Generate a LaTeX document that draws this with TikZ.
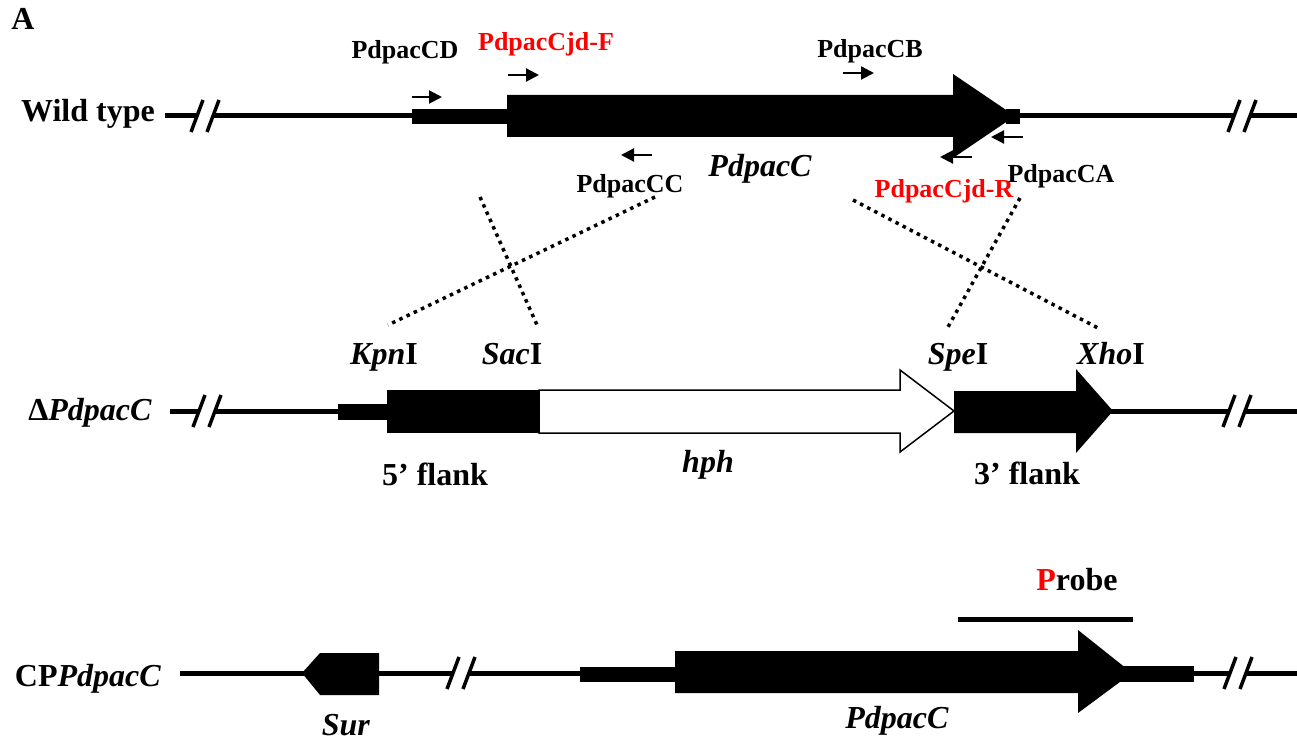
\documentclass[tikz,border=0pt]{standalone}
\usepackage{fontspec}
\setmainfont{Liberation Serif}
\usetikzlibrary{arrows.meta}
\definecolor{pred}{RGB}{255,0,0}
\tikzset{
  dna/.style={line width=5pt},
  slashmark/.style={line width=3.5pt},
  blk/.style={fill=black,draw=none},
  lblbig/.style={font=\fontsize{32}{38}\selectfont\bfseries, inner sep=0pt, anchor=base},
  lblsmall/.style={font=\fontsize{26}{31}\selectfont\bfseries, inner sep=0pt, anchor=base},
  primer/.style={line width=2.2pt, -{Triangle[length=13pt,width=13pt]}},
  crossline/.style={line width=3.5pt, dash pattern=on 3.5pt off 4.5pt},
}
\newcommand\dnabreak[2]{%
  \draw[slashmark] ({#1-14},{#2+16}) -- ({#1-2},{#2-16});
  \draw[slashmark] ({#1+2},{#2+16}) -- ({#1+14},{#2-16});
}
\begin{document}
\begin{tikzpicture}[x=1pt,y=-1pt]
\useasboundingbox (0,0) rectangle (1297,743);

% ---------- labels ----------
\node[lblbig] (lA) at (23,30) {A};

% ---------- Row 1 : Wild type ----------
\node[lblbig] (lwt) at (88,122) {Wild type};
\draw[dna] (165,116) -- (197,116);
\dnabreak{205}{116}
\draw[dna] (213,116) -- (412,116);
\fill[blk] (412,109) rectangle (508,124);
\fill[blk] (507,95) -- (953,95) -- (953,74) -- (1015,116) -- (953,158) -- (953,137) -- (507,137) -- cycle;
\fill[blk] (1006,109) rectangle (1020,124);
\draw[dna] (1019,116) -- (1234,116);
\dnabreak{1242}{116}
\draw[dna] (1250,116) -- (1297,116);

\node[lblsmall] (lCD) at (405,59) {PdpacCD};
\node[lblsmall, text=pred] (lCjdF) at (546,51) {PdpacCjd-F};
\node[lblsmall] (lCB) at (870,58) {PdpacCB};
\node[lblsmall] (lCC) at (630,193) {PdpacCC};
\node[lblsmall] (lCA) at (1061,183) {PdpacCA};
\node[lblsmall, text=pred] (lCjdR) at (944,198) {PdpacCjd-R};
\node[lblbig, font=\fontsize{32}{38}\selectfont\bfseries\itshape] (lgene1) at (760,177) {PdpacC};

\coordinate (pCDa) at (412,97);  \coordinate (pCDb) at (442,97);
\coordinate (pFa) at (508,75);   \coordinate (pFb) at (539,75);
\coordinate (pCBa) at (843,73);  \coordinate (pCBb) at (874,73);
\coordinate (pCCa) at (652,155); \coordinate (pCCb) at (621,155);
\coordinate (pCAa) at (1023,137); \coordinate (pCAb) at (991,137);
\coordinate (pRa) at (972,157);  \coordinate (pRb) at (940,157);
\draw[primer] (pCDa) -- (pCDb);
\draw[primer] (pFa) -- (pFb);
\draw[primer] (pCBa) -- (pCBb);
\draw[primer] (pCCa) -- (pCCb);
\draw[primer] (pCAa) -- (pCAb);
\draw[primer] (pRa) -- (pRb);

% ---------- crossing dotted lines ----------
\coordinate (c1a) at (480,197); \coordinate (c1b) at (537,325);
\coordinate (c2a) at (655,197); \coordinate (c2b) at (388,325);
\coordinate (c3a) at (853,200); \coordinate (c3b) at (1098,328);
\coordinate (c4a) at (1020,198); \coordinate (c4b) at (948,327);
\draw[crossline] (c1a) -- (c1b);
\draw[crossline] (c2a) -- (c2b);
\draw[crossline] (c3a) -- (c3b);
\draw[crossline] (c4a) -- (c4b);

% ---------- Row 2 : Delta PdpacC ----------
\node[lblbig] (ldel) at (90,420) {Δ\textit{PdpacC}};
\draw[dna] (170,411) -- (199,411);
\dnabreak{207}{411}
\draw[dna] (215,411) -- (338,411);
\fill[blk] (338,404) rectangle (388,420);
\fill[blk] (387,390) rectangle (539,433);
\draw[line width=1.5pt, fill=white] (539,390) -- (900,390) -- (900,370) -- (954,411) -- (900,452) -- (900,433) -- (539,433) -- cycle;
\fill[blk] (954,391) -- (1076,391) -- (1076,369) -- (1113,411) -- (1076,453) -- (1076,433) -- (954,433) -- cycle;
\draw[dna] (1110,411) -- (1229,411);
\dnabreak{1237}{411}
\draw[dna] (1245,411) -- (1297,411);

\node[lblbig] (lKpn) at (384,364) {\textit{Kpn}I};
\node[lblbig] (lSac) at (512,364) {\textit{Sac}I};
\node[lblbig] (lSpe) at (958,364) {\textit{Spe}I};
\node[lblbig] (lXho) at (1111,364) {\textit{Xho}I};
\node[lblbig] (l5f) at (435,485) {5’ flank};
\node[lblbig] (lhph) at (708,472) {\textit{hph}};
\node[lblbig] (l3f) at (1027,484) {3’ flank};

% ---------- Row 3 : CPPdpacC ----------
\node[lblbig] (lcp) at (88,686) {CP\textit{PdpacC}};
\draw[dna] (180,673) -- (305,673);
\fill[blk] (302,673) -- (320,653) -- (379,653) -- (379,695) -- (320,695) -- cycle;
\draw[dna] (378,673) -- (453,673);
\dnabreak{461}{673}
\draw[dna] (469,673) -- (580,673);
\fill[blk] (580,667) rectangle (676,682);
\fill[blk] (675,651) -- (1078,651) -- (1078,630) -- (1132,673) -- (1078,713) -- (1078,693) -- (675,693) -- cycle;
\fill[blk] (1120,666) rectangle (1194,682);
\draw[dna] (1193,673) -- (1230,673);
\dnabreak{1238}{673}
\draw[dna] (1246,673) -- (1297,673);

\coordinate (prA) at (958,619); \coordinate (prB) at (1133,619);
\draw[line width=5pt] (prA) -- (prB);
\node[lblbig] (lprobe) at (1077,590) {\textcolor{pred}{P}robe};
\node[lblbig] (lsur) at (346,735) {\textit{Sur}};
\node[lblbig] (lgene3) at (897,728) {\textit{PdpacC}};
\end{tikzpicture}
\end{document}
